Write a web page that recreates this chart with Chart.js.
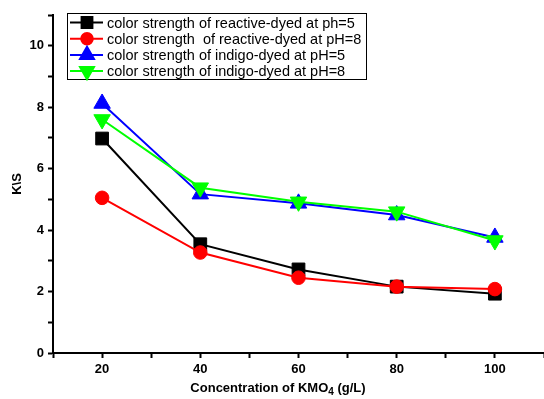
<!DOCTYPE html>
<html>
<head>
<meta charset="utf-8">
<script src="https://cdn.jsdelivr.net/npm/chart.js@4"></script>
<style>
  html, body { margin: 0; padding: 0; background: #fff; overflow: hidden; }
  #wrap { width: 544px; height: 399px; position: relative; }
</style>
</head>
<body>
<div id="wrap"><canvas id="my-chart"></canvas></div>
<script>
// data
let concentrations = [20, 40, 60, 80, 100];
let reactivePh5 = [6.98, 3.54, 2.72, 2.16, 1.93];
let reactivePh8 = [5.05, 3.27, 2.45, 2.16, 2.08];
let indigoPh5 = [8.12, 5.17, 4.87, 4.49, 3.76];
let indigoPh8 = [7.6, 5.38, 4.92, 4.6, 3.66];
let seriesNames = [
  'color strength of reactive-dyed at ph=5',
  'color strength  of reactive-dyed at pH=8',
  'color strength of indigo-dyed at pH=5',
  'color strength of indigo-dyed at pH=8'
];
let yTickLabels = [0, 2, 4, 6, 8, 10];
let xTickLabels = [20, 40, 60, 80, 100];

let ctx = document.getElementById('my-chart');

function toPoints(values) {
  return values.map((v, i) => ({ x: concentrations[i], y: v }));
}

function makeSet(label, values, color, style, radius, rotation, order) {
  return {
    label: label,
    data: toPoints(values),
    borderColor: color,
    backgroundColor: color,
    borderWidth: 2,
    pointStyle: style,
    pointRadius: radius,
    pointRotation: rotation,
    pointBorderWidth: 1,
    order: order,
    tension: 0
  };
}

// legend drawn as a framed box inside the plot, with line + marker samples
const boxLegend = {
  id: 'boxLegend',
  afterDatasetsDraw(chart) {
    const c = chart.ctx;
    const left = 67, top = 13, w = 299, h = 66;
    c.save();
    c.fillStyle = '#fff';
    c.fillRect(left, top, w, h);
    c.strokeStyle = '#000';
    c.lineWidth = 1;
    c.strokeRect(left + 0.5, top + 0.5, w, h);
    c.font = '14.5px "Liberation Sans", Arial, sans-serif';
    c.textBaseline = 'middle';
    chart.data.datasets.forEach((ds, i) => {
      const y = top + 9.5 + i * 16.2;
      c.strokeStyle = ds.borderColor;
      c.lineWidth = 2;
      c.beginPath();
      c.moveTo(left + 3, y);
      c.lineTo(left + 36, y);
      c.stroke();
      c.fillStyle = ds.backgroundColor;
      Chart.helpers.drawPoint(c, {
        pointStyle: ds.pointStyle,
        radius: ds.pointRadius * 0.85,
        rotation: ds.pointRotation,
        borderWidth: 1
      }, left + 20, y);
      c.fillStyle = '#000';
      c.fillText(ds.label, left + 40, y + 1);
    });
    c.restore();
  }
};

// x title with the subscript 4
const xTitle = {
  id: 'xTitle',
  afterDraw(chart) {
    const c = chart.ctx;
    c.save();
    c.fillStyle = '#000';
    c.textBaseline = 'alphabetic';
    const main = 'Concentration of KMO';
    const tail = ' (g/L)';
    c.font = 'bold 13px "Liberation Sans", Arial, sans-serif';
    const w1 = c.measureText(main).width;
    const w3 = c.measureText(tail).width;
    c.font = 'bold 10px "Liberation Sans", Arial, sans-serif';
    const w2 = c.measureText('4').width;
    let x = 278 - (w1 + w2 + w3) / 2;
    const y = 392;
    c.font = 'bold 13px "Liberation Sans", Arial, sans-serif';
    c.fillText(main, x, y);
    c.font = 'bold 10px "Liberation Sans", Arial, sans-serif';
    c.fillText('4', x + w1, y + 3);
    c.font = 'bold 13px "Liberation Sans", Arial, sans-serif';
    c.fillText(tail, x + w1 + w2, y);
    c.restore();
  }
};

let chartObject = {
  type: 'line',
  data: {
    datasets: [
      makeSet(seriesNames[0], reactivePh5, '#000000', 'rect', 9, 0, 3),
      makeSet(seriesNames[1], reactivePh8, '#ff0000', 'circle', 6.8, 0, 2),
      makeSet(seriesNames[2], indigoPh5, '#0000ff', 'triangle', 9.5, 0, 1),
      makeSet(seriesNames[3], indigoPh8, '#00ff00', 'triangle', 9.5, 180, 0)
    ]
  },
  options: {
    responsive: true,
    maintainAspectRatio: false,
    animation: false,
    layout: { autoPadding: false, padding: { top: 15, right: 0, left: 0, bottom: 0 } },
    plugins: {
      legend: { display: false },
      tooltip: { enabled: false }
    },
    scales: {
      x: {
        type: 'linear',
        min: 10,
        max: 110,
        afterFit(scale) {
          scale.height = 46;
          scale.paddingRight = 0;
        },
        border: { color: '#000', width: 2 },
        grid: { drawOnChartArea: false, drawTicks: true, tickLength: 5, color: '#000', tickWidth: 2 },
        ticks: {
          stepSize: 10,
          color: '#000',
          padding: 4,
          font: { family: '"Liberation Sans", Arial', size: 13, weight: 'bold' },
          callback: (v) => xTickLabels.includes(v) ? String(v) : ''
        },
        title: { display: false }
      },
      y: {
        min: 0,
        max: 11,
        afterFit(scale) { scale.width = 53; },
        border: { color: '#000', width: 2 },
        grid: { drawOnChartArea: false, drawTicks: true, tickLength: 5, color: '#000', tickWidth: 2 },
        ticks: {
          stepSize: 1,
          color: '#000',
          padding: 4,
          font: { family: '"Liberation Sans", Arial', size: 13, weight: 'bold' },
          callback: (v) => yTickLabels.includes(v) ? String(v) : ''
        },
        title: {
          display: true,
          text: 'K\\S',
          color: '#000',
          padding: { top: 10, bottom: 0 },
          font: { family: '"Liberation Sans", Arial', size: 13, weight: 'bold' }
        }
      }
    }
  },
  plugins: [boxLegend, xTitle]
};

const myChart = new Chart(ctx, chartObject); //eslint-disable-line
</script>
</body>
</html>
